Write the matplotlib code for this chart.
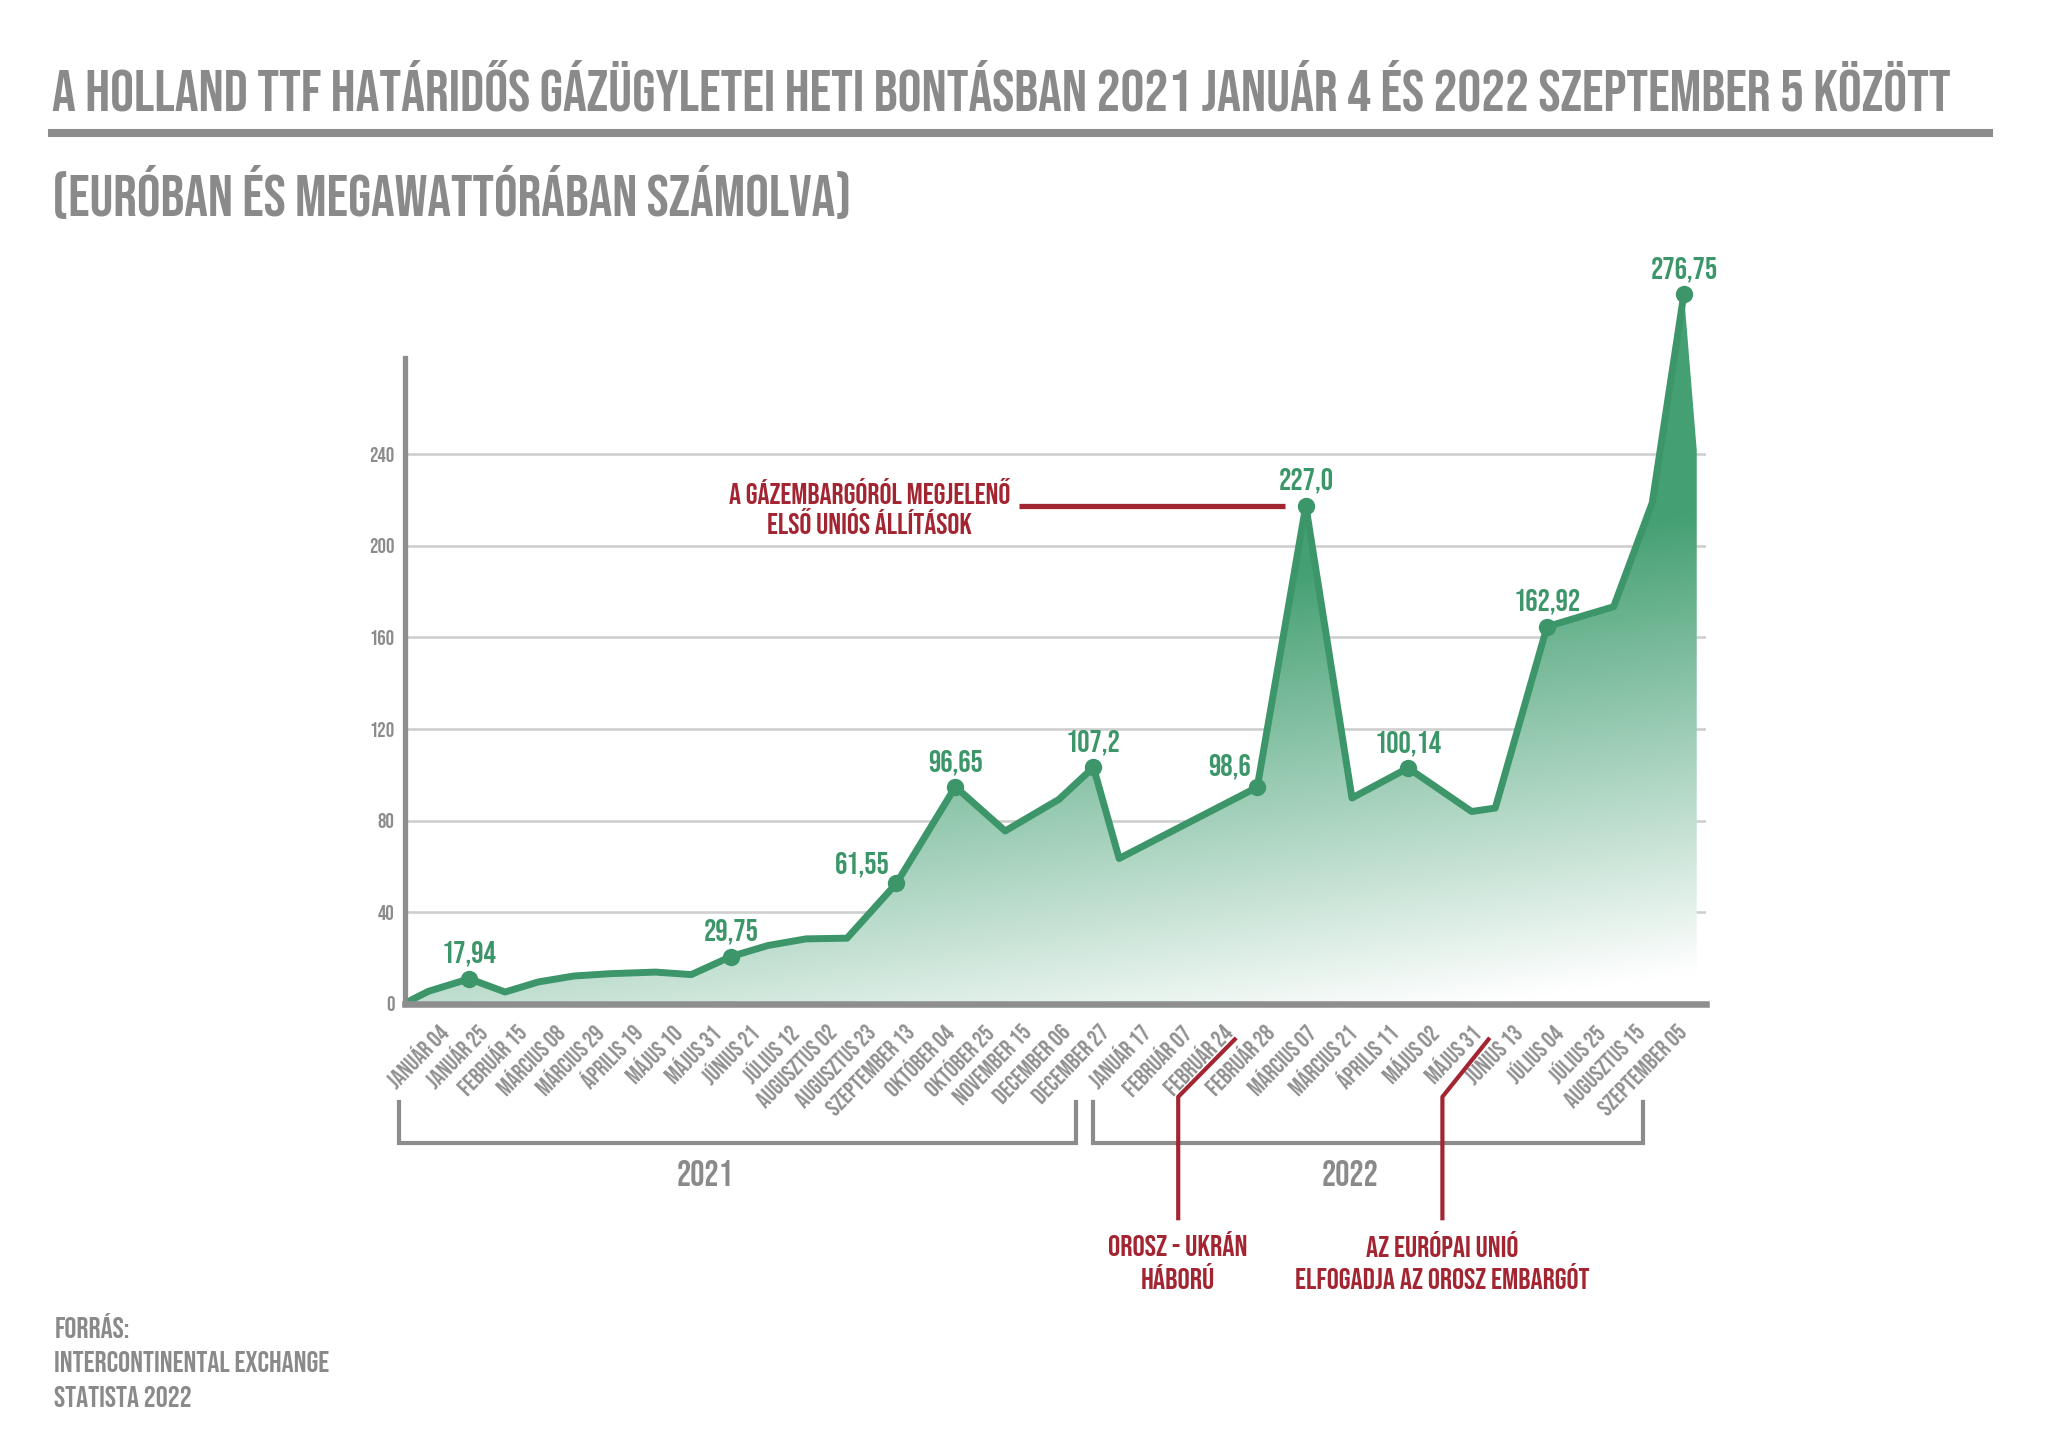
import numpy as np
import matplotlib
matplotlib.use("Agg")
import matplotlib.pyplot as plt
from matplotlib.colors import to_rgb
from matplotlib.lines import Line2D
from matplotlib.patches import Polygon

# --- data ---
labels_2021 = ["JANUÁR 04", "JANUÁR 25", "FEBRUÁR 15", "MÁRCIUS 08", "MÁRCIUS 29",
               "ÁPRILIS 19", "MÁJUS 10", "MÁJUS 31", "JÚNIUS 21", "JÚLIUS 12",
               "AUGUSZTUS 02", "AUGUSZTUS 23", "SZEPTEMBER 13", "OKTÓBER 04",
               "OKTÓBER 25", "NOVEMBER 15", "DECEMBER 06", "DECEMBER 27"]
labels_2022 = ["JANUÁR 17", "FEBRUÁR 07", "FEBRUÁR 24", "FEBRUÁR 28", "MÁRCIUS 07",
               "MÁRCIUS 21", "ÁPRILIS 11", "MÁJUS 02", "MÁJUS 31", "JÚNIUS 13",
               "JÚLIUS 04", "JÚLIUS 25", "AUGUSZTUS 15", "SZEPTEMBER 05"]
tick_labels = labels_2021 + labels_2022

# x position of every vertex (about one unit per label step)
week_pos = [-0.76, -0.32, 0.70, 1.59, 2.42, 3.31, 4.20, 5.34, 6.23, 7.22,
            8.14, 9.09, 10.11, 11.34, 12.81, 14.05, 15.39, 16.25, 16.89, 20.33,
            21.54, 22.69, 24.09, 25.67, 26.26, 27.55, 29.21, 30.17, 30.96, 31.28]
price = [1.6, 5.5, 11.0, 5.2, 9.6, 12.2, 13.2, 13.9, 12.8, 20.7,
         25.5, 28.4, 28.7, 52.6, 94.8, 75.5, 89.3, 103.3, 63.5, 94.6,
         217.5, 89.9, 103.0, 84.0, 85.5, 164.7, 173.4, 218.7, 310.0, 241.7]

marked_points = [2, 9, 13, 14, 17, 19, 20, 22, 25, 28]
marked_labels = ["17,94", "29,75", "61,55", "96,65", "107,2", "98,6",
                 "227,0", "100,14", "162,92", "276,75"]

y_ticks = [0, 40, 80, 120, 160, 200, 240]
years = ["2021", "2022"]

TITLE = ("A HOLLAND TTF HATÁRIDŐS GÁZÜGYLETEI HETI BONTÁSBAN "
         "2021 JANUÁR 4 ÉS 2022 SZEPTEMBER 5 KÖZÖTT")
SUBTITLE = "(EURÓBAN ÉS MEGAWATTÓRÁBAN SZÁMOLVA)"
SOURCE = ["FORRÁS:", "INTERCONTINENTAL EXCHANGE", "STATISTA 2022"]

GREY = "#8c8c8c"
GREEN = "#3c966a"
FILL_TOP = "#45a074"
RED = "#a32532"

plt.rcParams["font.family"] = ["Bebas Neue", "Oswald", "DejaVu Sans"]

fig = plt.figure(figsize=(20.48, 14.47), dpi=100)
ax = fig.add_axes([0.1978, 0.3062, 0.6350, 0.5066])
rend = fig.canvas.get_renderer()


def fit(txt, target):
    w = txt.get_window_extent(renderer=rend).width
    txt.set_fontsize(txt.get_fontsize() * target / w)


def size_for(s, target):
    probe = fig.text(0, 0, s, fontsize=20)
    fit(probe, target)
    size = probe.get_fontsize()
    probe.remove()
    return size


xmin, xmax = -0.9, 31.5
ymax = 320

# labels sit a little tighter in 2021 than in 2022
tick_pos = ([0.05 + 0.970 * i for i in range(len(labels_2021))] +
            [17.54 + 1.029 * k for k in range(len(labels_2022))])

# gradient fill under the line
gx = np.linspace(0, 1, 400)
gy = np.linspace(0, ymax, 400)
XF, V = np.meshgrid(gx, gy)
t = np.clip(0.343 + 1.41 * V / 282 - 0.413 * XF, 0, 1)
rgb = 1 - t[..., None] * (1 - np.array(to_rgb(FILL_TOP)))
im = ax.imshow(rgb, extent=(xmin, xmax, 0, ymax), origin="lower",
               aspect="auto", zorder=1, interpolation="bilinear")
verts = list(zip(week_pos, price)) + [(week_pos[-1], 0), (week_pos[0], 0)]
poly = Polygon(verts, closed=True, facecolor="none", edgecolor="none")
ax.add_patch(poly)
im.set_clip_path(poly)

ax.plot(week_pos[:-1], price[:-1], color=GREEN, lw=5, solid_joinstyle="round",
        solid_capstyle="round", zorder=3, clip_on=False)

label_size = size_for("96,65", 55)
for i, lab in zip(marked_points, marked_labels):
    ax.plot(week_pos[i], price[i], "o", ms=11.5, color=GREEN, zorder=4, clip_on=False)
    off = (0, 18)
    if lab == "61,55":
        off = (-24.5, 14)
    elif lab == "98,6":
        off = (-20, 15)
    ax.annotate(lab, (week_pos[i], price[i]), xytext=off, textcoords="offset points",
                ha="center", va="center", fontsize=label_size, color=GREEN)

# annotation for the 227 peak
pk = 20
ax.plot([week_pos[pk] - 7.15, week_pos[pk] - 0.52], [price[pk], price[pk]],
        color=RED, lw=3.8, zorder=2, solid_capstyle="butt")
peak_note = ax.text(week_pos[pk] - 10.86, price[pk],
                    "A GÁZEMBARGÓRÓL MEGJELENŐ\nELSŐ UNIÓS ÁLLÍTÁSOK",
                    ha="center", va="center", fontsize=17.5, color=RED,
                    linespacing=1.14)
fit(peak_note, 281)

ax.set_xlim(xmin, xmax)
ax.set_ylim(0, ymax)
ax.set_yticks(y_ticks)
ax.set_yticklabels([str(v) for v in y_ticks])
ax.tick_params(axis="y", length=0, pad=7.5, labelsize=size_for("240", 25),
               labelcolor=GREY)
ax.set_xticks(tick_pos)
ax.set_xticklabels(tick_labels, rotation=46, ha="right", va="center",
                   rotation_mode="anchor", fontsize=size_for("SZEPTEMBER 13", 116),
                   color="#909090")
ax.tick_params(axis="x", length=0, pad=17)

for s in ["top", "right"]:
    ax.spines[s].set_visible(False)
ax.spines["left"].set_color("#8e8e8e")
ax.spines["left"].set_linewidth(3.8)
ax.spines["left"].set_bounds(0, 282)
ax.spines["bottom"].set_color("#8e8e8e")
ax.spines["bottom"].set_linewidth(4.7)
ax.spines["bottom"].set_zorder(5)
ax.grid(axis="y", color="#cfcfcf", linewidth=1.9)
ax.set_axisbelow(True)

# headline
title = fig.text(0.0252, 0.9408, TITLE, ha="left", va="center", fontsize=30,
                 color="#8a8a8a")
subtitle = fig.text(0.0252, 0.8675, SUBTITLE, ha="left", va="center", fontsize=30,
                    color="#8a8a8a")
fit(title, 1898)
fit(subtitle, 800)
fig.add_artist(Line2D([0.0252, 0.9713], [0.9083, 0.9083], transform=fig.transFigure,
                      color=GREY, lw=5.8))

# year brackets
for (x0, x1), yr, xc in zip([(0.1948, 0.5253), (0.5338, 0.8023)], years, [0.344, 0.6592]):
    fig.add_artist(Line2D([x0, x0, x1, x1], [0.2385, 0.2100, 0.2100, 0.2385],
                          transform=fig.transFigure, color=GREY, lw=3,
                          solid_joinstyle="miter"))
    yt = fig.text(xc, 0.1892, yr, ha="center", va="center", fontsize=22, color="#8a8a8a")
    fit(yt, 57)

# event markers under the axis
events = [([0.6029, 0.5753, 0.5753], "OROSZ - UKRÁN\nHÁBORÚ", 139),
          ([0.7268, 0.7043, 0.7043], "AZ EURÓPAI UNIÓ\nELFOGADJA AZ OROSZ EMBARGÓT", 293)]
for (xa, xb, xc), txt, wid in events:
    fig.add_artist(Line2D([xa, xb, xc], [0.2817, 0.2420, 0.1581],
                          transform=fig.transFigure, color=RED, lw=3))
    et = fig.text(xc, 0.1292, txt, ha="center", va="center", fontsize=17.5,
                  color=RED, linespacing=1.26)
    fit(et, wid)

src = [fig.text(0.0265, y, line, ha="left", va="center", fontsize=15.5, color="#8a8a8a")
       for line, y in zip(SOURCE, [0.0842, 0.0589, 0.0347])]
w = src[1].get_window_extent(renderer=rend).width
for s in src:
    s.set_fontsize(s.get_fontsize() * 273 / w)

fig.savefig("out.png", dpi=100)
